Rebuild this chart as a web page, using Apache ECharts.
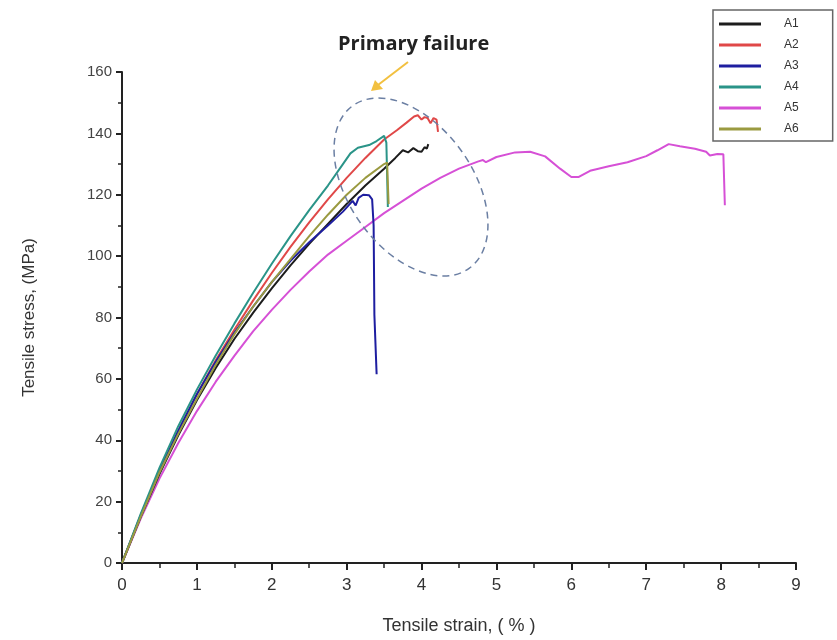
<!DOCTYPE html>
<html>
<head>
<meta charset="utf-8">
<script src="https://cdn.jsdelivr.net/npm/echarts@6/dist/echarts.min.js"></script>
<style>
  html, body { margin: 0; padding: 0; background: #fff; }
  #main { width: 837px; height: 640px; }
</style>
</head>
<body>
<div id="main"></div>
<script>
// sample names and colours
var names = ['A1', 'A2', 'A3', 'A4', 'A5', 'A6'];
var colors = ['#1c1c1c', '#e04848', '#1e1ea0', '#2a9488', '#d650d6', '#9a9a40'];

// strain (%) / stress (MPa)
var a1Strain = [0, 0.25, 0.5, 0.75, 1.0, 1.25, 1.5, 1.75, 2.0, 2.25, 2.5, 2.75, 3.0, 3.25, 3.5, 3.65, 3.75, 3.82, 3.89, 3.95, 4.0, 4.04, 4.07, 4.09];
var a1Stress = [0, 15, 29, 41.5, 53, 63.5, 73, 81.5, 89.5, 97, 104, 110.5, 117, 123, 128.5, 132, 134.5, 133.8, 135.2, 134.2, 134, 135.5, 135, 136.5];

var a2Strain = [0, 0.25, 0.5, 0.75, 1.0, 1.25, 1.5, 1.75, 2.0, 2.25, 2.5, 2.75, 3.0, 3.25, 3.5, 3.67, 3.8, 3.9, 3.95, 4.0, 4.04, 4.08, 4.12, 4.16, 4.2, 4.22];
var a2Stress = [0, 15.5, 30, 43, 55, 66, 76, 85.5, 94.5, 103, 111, 118.5, 125.5, 132, 138, 141, 143.5, 145.5, 145.9, 144.5, 145.3, 145, 143.3, 145, 144.5, 140.5];

var a3Strain = [0, 0.25, 0.5, 0.75, 1.0, 1.25, 1.5, 1.75, 2.0, 2.25, 2.5, 2.75, 2.95, 3.08, 3.12, 3.16, 3.22, 3.3, 3.34, 3.36, 3.37, 3.4];
var a3Stress = [0, 15.5, 30, 43, 55, 65.5, 75, 83.5, 91.5, 98.5, 104.5, 110, 114.5, 118, 116.5, 119, 120, 119.8, 118.5, 110, 81, 61.5];

var a4Strain = [0, 0.25, 0.5, 0.75, 1.0, 1.25, 1.5, 1.75, 2.0, 2.25, 2.5, 2.75, 2.95, 3.05, 3.15, 3.3, 3.4, 3.5, 3.53, 3.55];
var a4Stress = [0, 16, 31, 44.5, 56.5, 67.5, 78, 88, 97.5, 106.5, 115, 123, 130, 133.5, 135.3, 136.2, 137.5, 139.2, 137, 116];

var a5Strain = [0, 0.25, 0.5, 0.75, 1.0, 1.25, 1.5, 1.75, 2.0, 2.25, 2.5, 2.75, 3.0, 3.25, 3.5, 3.75, 4.0, 4.25, 4.5, 4.75, 4.82, 4.86, 5.0, 5.25, 5.45, 5.65, 5.85, 6.0, 6.1, 6.25, 6.5, 6.75, 7.0, 7.15, 7.3, 7.45, 7.65, 7.8, 7.85, 7.95, 8.03, 8.05];
var a5Stress = [0, 14.5, 27.5, 39, 49.5, 59, 67.5, 75.5, 82.5, 89, 95, 100.5, 105, 109.5, 114, 118, 122, 125.5, 128.5, 130.8, 131.3, 130.6, 132.3, 133.8, 134, 132.5, 128.5, 125.8, 125.8, 127.8, 129.3, 130.6, 132.6, 134.5, 136.5, 135.8, 135, 134, 132.8, 133.3, 133.2, 116.6];

var a6Strain = [0, 0.25, 0.5, 0.75, 1.0, 1.25, 1.5, 1.75, 2.0, 2.25, 2.5, 2.75, 3.0, 3.25, 3.5, 3.54, 3.56];
var a6Stress = [0, 15, 29.5, 42, 53.5, 64.5, 74.5, 83.5, 91.5, 99, 106.5, 113.5, 120, 125.5, 130, 130.5, 117];

var strains = [a1Strain, a2Strain, a3Strain, a4Strain, a5Strain, a6Strain];
var stresses = [a1Stress, a2Stress, a3Stress, a4Stress, a5Stress, a6Stress];

function pairs(xs, ys) {
  var out = [];
  for (var i = 0; i < xs.length; i++) out.push([xs[i], ys[i]]);
  return out;
}

var series = names.map(function (n, i) {
  return {
    name: n,
    type: 'line',
    data: pairs(strains[i], stresses[i]),
    showSymbol: false,
    symbol: 'none',
    lineStyle: { color: colors[i], width: 2 },
    itemStyle: { color: colors[i] },
    z: i === 4 ? 1 : 2
  };
});

var myChart = echarts.init(document.getElementById('main'));
myChart.setOption({
  animation: false,
  backgroundColor: '#fff',
  grid: { left: 122, right: 41, top: 72, bottom: 77 },
  legend: {
    orient: 'vertical',
    left: 713,
    top: 10,
    padding: [8, 34, 6, 6],
    borderColor: '#666',
    borderWidth: 1.5,
    itemWidth: 42,
    itemHeight: 3,
    itemGap: 9,
    icon: 'rect',
    textStyle: { fontFamily: 'Liberation Sans', fontSize: 12, color: '#333', padding: [0, 0, 0, 18] },
    data: names
  },
  xAxis: {
    type: 'value',
    min: 0,
    max: 9,
    interval: 1,
    name: 'Tensile strain, ( % )',
    nameLocation: 'middle',
    nameGap: 54,
    nameTextStyle: { fontFamily: 'Liberation Sans', fontSize: 18, color: '#333' },
    axisLine: { show: true, lineStyle: { color: '#222', width: 2 } },
    axisTick: { show: true, length: 7, lineStyle: { color: '#222', width: 2 } },
    minorTick: { show: true, splitNumber: 2, length: 5, lineStyle: { color: '#222', width: 1.5 } },
    axisLabel: { fontFamily: 'Liberation Sans', fontSize: 17, color: '#333', margin: 14 },
    splitLine: { show: false }
  },
  yAxis: {
    type: 'value',
    min: 0,
    max: 160,
    interval: 20,
    name: 'Tensile stress, (MPa)',
    nameLocation: 'middle',
    nameGap: 84,
    nameTextStyle: { fontFamily: 'Liberation Sans', fontSize: 17, color: '#333' },
    axisLine: { show: true, lineStyle: { color: '#222', width: 2 } },
    axisTick: { show: true, length: 6, lineStyle: { color: '#222', width: 2 } },
    minorTick: { show: true, splitNumber: 2, length: 4, lineStyle: { color: '#222', width: 1.5 } },
    axisLabel: { fontFamily: 'Liberation Sans', fontSize: 15, color: '#444', margin: 10 },
    splitLine: { show: false }
  },
  series: series,
  graphic: [
    {
      type: 'text',
      left: 338,
      top: 34,
      style: { text: 'Primary failure', font: 'bold 20px "Open Sans", sans-serif', fill: '#222' }
    },
    {
      type: 'line',
      shape: { x1: 408, y1: 62, x2: 378, y2: 85 },
      style: { stroke: '#f2c040', lineWidth: 2 }
    },
    {
      type: 'polygon',
      shape: { points: [[371, 91], [375, 80], [383, 89]] },
      style: { fill: '#f2c040' }
    },
    {
      type: 'ellipse',
      x: 411,
      y: 187,
      rotation: 0.62,
      shape: { cx: 0, cy: 0, rx: 62, ry: 100 },
      style: { fill: 'none', stroke: '#6b7fa3', lineWidth: 1.5, lineDash: [7, 5] },
      z: 10
    }
  ]
});
</script>
</body>
</html>
